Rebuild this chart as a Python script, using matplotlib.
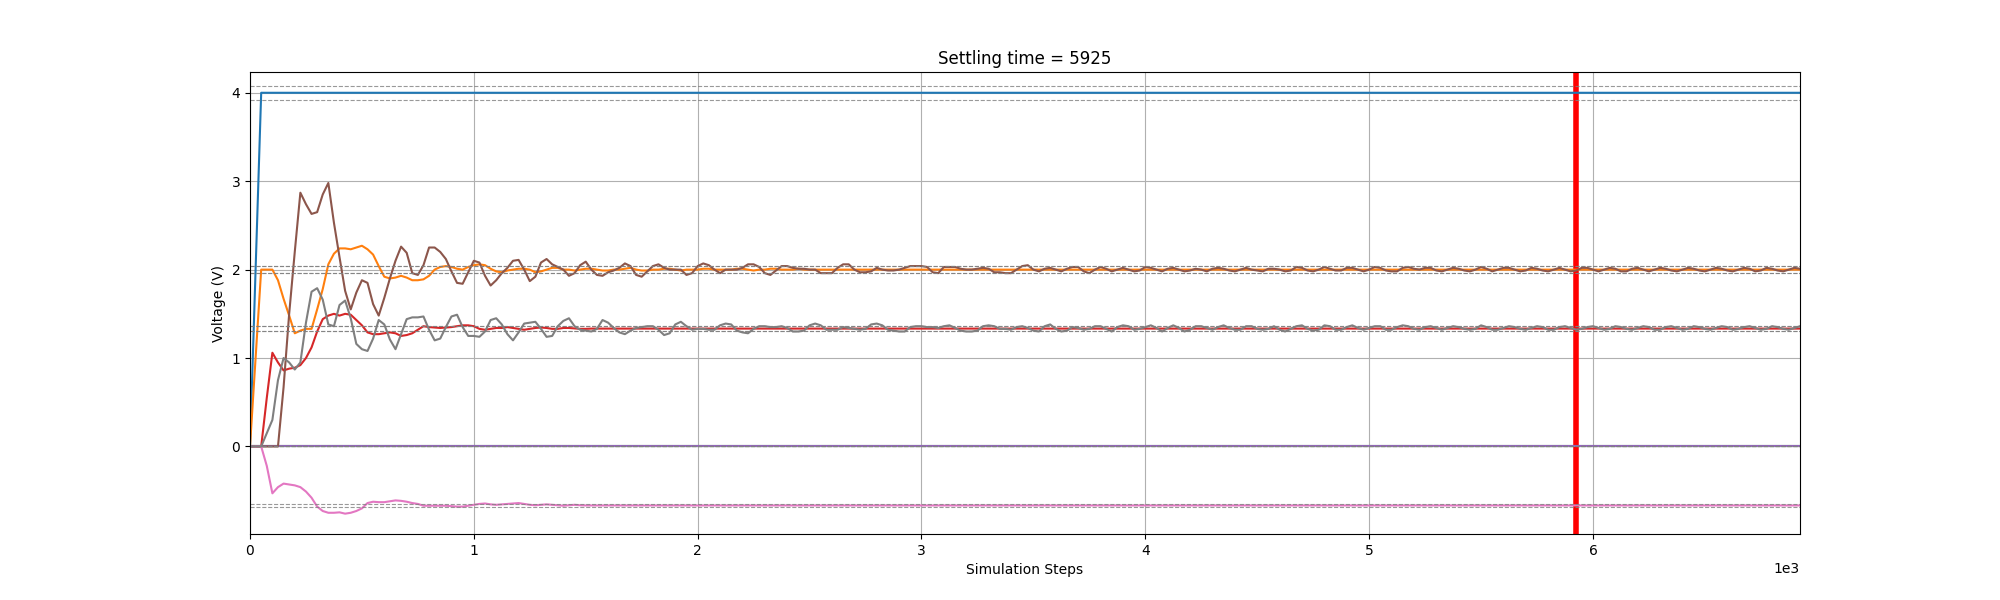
import numpy as np
import matplotlib
matplotlib.use("Agg")
import matplotlib.pyplot as plt

# ---- Data (sampled every 25 simulation steps) ----
steps = np.arange(0, 6926, 25)
settling_time = 5925
tolerance = 0.02

v_blue = [0.0, 2.0] + [4.0] * 276
v_green = [0.0] * 278
v_purple = [0.0] * 278

v_orange = [
    0.0, 1.0, 2.0, 2.0, 2.0, 1.88, 1.67, 1.48, 1.28, 1.31,
    1.33, 1.33, 1.55, 1.78, 2.06, 2.18, 2.24, 2.24, 2.23, 2.25,
    2.27, 2.23, 2.17, 2.04, 1.92, 1.90, 1.91, 1.93, 1.91, 1.88,
    1.88, 1.89, 1.93, 2.0, 2.03, 2.04, 2.03, 2.01, 2.0, 2.03,
    2.05, 2.06, 2.05, 2.01, 1.98, 1.97, 1.99, 2.0, 2.01, 2.01,
    2.0, 1.97, 1.98, 2.0, 2.02, 2.02, 2.0, 2.0, 1.99, 2.0,
    2.01, 2.01, 2.0, 1.99, 1.99, 2.0, 2.0, 2.01, 2.02, 2.0,
    1.99, 1.99, 2.0, 2.0, 2.01, 2.01, 2.0, 1.99, 2.0, 2.0,
    2.0, 2.01, 2.01, 2.0, 2.0, 2.0,
    2.0, 2.01, 2.01, 2.0, 1.99, 2.0, 2.0, 2.01, 2.01, 2.0, 2.0, 2.0, 2.01, 2.0,
] + [2.0] * 178

v_red = [
    0.0, 0.0, 0.0, 0.55, 1.06, 0.95, 0.86, 0.88, 0.89, 0.92,
    1.0, 1.12, 1.3, 1.44, 1.48, 1.5, 1.48, 1.5, 1.49, 1.43,
    1.37, 1.29, 1.27, 1.27, 1.28, 1.29, 1.28, 1.25, 1.26, 1.28,
    1.32, 1.36, 1.35, 1.345, 1.34, 1.345, 1.35, 1.36, 1.37, 1.37,
    1.36, 1.33, 1.32, 1.33, 1.34, 1.34, 1.35, 1.34, 1.33, 1.32,
    1.33, 1.34, 1.345, 1.34, 1.33, 1.33, 1.34, 1.34, 1.335, 1.33,
    1.33,
] + [1.333] * 217

v_brown = [
    0.0, 0.0, 0.0, 0.0, 0.0, 0.0, 0.67, 1.5, 2.2, 2.87,
    2.74, 2.63, 2.65, 2.85, 2.98, 2.53, 2.14, 1.76, 1.55, 1.74,
    1.88, 1.85, 1.61, 1.48, 1.68, 1.9, 2.1, 2.26, 2.19, 1.96,
    1.94, 2.05, 2.25, 2.25, 2.2, 2.12, 1.98, 1.85, 1.84, 1.97,
    2.1, 2.08, 1.93, 1.82, 1.88, 1.96, 2.02, 2.1, 2.11, 2.0,
    1.87, 1.92, 2.08, 2.12, 2.06, 2.03, 2.0, 1.93, 1.96, 2.05,
    2.09, 2.0, 1.94, 1.93, 1.97, 1.99, 2.02, 2.07, 2.04, 1.94,
    1.92, 1.98, 2.04, 2.06, 2.02, 2.0, 2.0, 2.0, 1.94, 1.96,
    2.04, 2.07, 2.05, 2.0, 1.96, 2.0, 2.0, 2.0, 2.02, 2.06,
    2.06, 2.03, 1.96, 1.94, 1.99, 2.04, 2.04, 2.02, 2.01, 2.01,
    2.0, 2.0, 1.96, 1.96, 1.96, 2.02, 2.06, 2.06, 2.0, 1.97,
    1.97, 1.98, 2.02, 2.0, 1.99, 1.99, 2.0, 2.02, 2.04, 2.04,
    2.04, 2.03, 1.97, 1.96, 2.03, 2.03, 2.03, 2.01, 2.0, 2.0,
    2.01, 2.02, 2.01, 1.97, 1.97, 1.96, 1.96, 2.0, 2.04, 2.05,
    2.0, 1.98, 2.01, 2.02, 2.0, 1.98, 2.01, 2.03, 2.03, 1.98,
    1.96, 2.0, 2.03, 2.01, 1.98, 2.0, 2.02, 2.0, 1.98, 1.99,
    2.03, 2.02, 2.0, 1.98, 2.01, 2.02, 2.0, 1.98, 1.99, 2.01,
    2.0, 1.98, 2.01, 2.02, 2.01, 1.99, 1.98, 2.0, 2.02, 2.0,
    1.99, 1.98, 2.01, 2.01, 2.0, 1.98, 1.99, 2.03, 2.02, 1.99,
    1.98, 2.0, 2.03, 2.01, 1.99, 1.99, 2.02, 2.02, 2.0, 1.98,
    2.0, 2.03, 2.02, 1.99, 1.98, 1.98, 2.02, 2.03, 2.01, 2.0,
    2.02, 2.02, 1.99, 1.98, 2.0, 2.02, 2.01, 1.99, 1.98, 2.0,
    2.03, 2.01, 1.98, 2.0, 2.02, 2.02, 2.0, 1.98, 1.99, 2.02,
    2.01, 1.99, 1.98, 2.0, 2.02, 2.0, 1.98, 1.99, 2.02, 2.02,
    2.0, 1.98, 2.0, 2.02, 2.01, 1.98, 1.98, 2.01, 2.02, 2.0,
    1.98, 2.0, 2.02, 2.01, 1.99, 1.98, 2.0, 2.02, 2.01, 1.99,
    1.98, 2.0, 2.02, 2.01, 1.99, 1.98, 2.0, 2.02, 2.01, 1.98,
    1.99, 2.02, 2.01, 1.99, 1.98, 2.0, 2.02, 2.01,
]

v_pink = [
    0.0, 0.0, 0.0, -0.22, -0.53, -0.46, -0.42, -0.43, -0.44, -0.46,
    -0.51, -0.58, -0.68, -0.73, -0.75, -0.75, -0.745, -0.76, -0.75, -0.73,
    -0.70, -0.64, -0.625, -0.63, -0.63, -0.62, -0.61, -0.615, -0.625, -0.64,
    -0.65, -0.67, -0.67, -0.67, -0.67, -0.67, -0.675, -0.68, -0.68, -0.67,
    -0.66, -0.65, -0.645, -0.655, -0.66, -0.655, -0.65, -0.645, -0.64, -0.65,
    -0.66, -0.665, -0.66, -0.655, -0.66, -0.665, -0.67, -0.665, -0.66, -0.665,
    -0.667,
] + [-0.667] * 217

v_gray = [
    0.0, 0.0, 0.0, 0.15, 0.3, 0.75, 1.0, 0.95, 0.87, 0.95,
    1.4, 1.75, 1.79, 1.66, 1.38, 1.36, 1.6, 1.65, 1.45, 1.16,
    1.1, 1.08, 1.22, 1.43, 1.38, 1.21, 1.1, 1.27, 1.44, 1.46,
    1.46, 1.47, 1.32, 1.2, 1.22, 1.35, 1.47, 1.49, 1.35, 1.25,
    1.25, 1.24, 1.3, 1.43, 1.45, 1.38, 1.27, 1.2, 1.29, 1.39,
    1.4, 1.41, 1.33, 1.24, 1.25, 1.36, 1.42, 1.45, 1.36, 1.32,
    1.31, 1.3, 1.33, 1.43, 1.4, 1.34, 1.29, 1.27, 1.31, 1.34,
    1.35, 1.36, 1.36, 1.32, 1.26, 1.28, 1.38, 1.41, 1.36, 1.32,
    1.33, 1.33, 1.32, 1.32, 1.37, 1.39, 1.38, 1.31, 1.29, 1.28,
    1.33, 1.36, 1.36, 1.35, 1.35, 1.36, 1.34, 1.3, 1.3, 1.31,
    1.37, 1.39, 1.37, 1.32, 1.32, 1.32, 1.35, 1.34, 1.33, 1.32,
    1.33, 1.38, 1.39, 1.37, 1.32, 1.31, 1.3, 1.3, 1.35, 1.36,
    1.36, 1.35, 1.35, 1.34, 1.36, 1.37, 1.34, 1.31, 1.3, 1.3,
    1.31, 1.36, 1.37, 1.36, 1.33, 1.33, 1.32, 1.35, 1.36, 1.34,
    1.31, 1.3, 1.36, 1.38, 1.33, 1.3, 1.31, 1.35, 1.34, 1.32,
    1.33, 1.36, 1.36, 1.33, 1.3, 1.35, 1.37, 1.36, 1.32, 1.33,
    1.35, 1.37, 1.34, 1.3, 1.34, 1.37, 1.34, 1.3, 1.32, 1.36,
    1.36, 1.34, 1.32, 1.35, 1.37, 1.34, 1.32, 1.32, 1.36, 1.36,
    1.33, 1.32, 1.33, 1.36, 1.32, 1.3, 1.33, 1.36, 1.37, 1.33,
    1.31, 1.32, 1.37, 1.36, 1.32, 1.32, 1.35, 1.37, 1.34, 1.32,
    1.34, 1.36, 1.36, 1.32, 1.32, 1.35, 1.37, 1.36, 1.33, 1.32,
    1.35, 1.36, 1.34, 1.32, 1.34, 1.36, 1.35, 1.33, 1.32, 1.33,
    1.37, 1.35, 1.32, 1.32, 1.34, 1.36, 1.35, 1.33, 1.32, 1.34,
    1.36, 1.35, 1.32, 1.32, 1.35, 1.36, 1.34, 1.32, 1.33, 1.35,
    1.36, 1.34, 1.32, 1.33, 1.36, 1.35, 1.33, 1.32, 1.34, 1.36,
    1.35, 1.32, 1.32, 1.35, 1.36, 1.34, 1.32, 1.33, 1.36, 1.35,
    1.33, 1.32, 1.34, 1.36, 1.35, 1.32, 1.33, 1.35, 1.36, 1.34,
    1.32, 1.33, 1.36, 1.35, 1.33, 1.32, 1.34, 1.36,
]

series = [v_blue, v_orange, v_green, v_red, v_purple, v_brown, v_pink, v_gray]
targets = [4.0, 2.0, 0.0, 1.333, 0.0, 2.0, -0.667, 1.333]
colors = ["C0", "C1", "C2", "C3", "C4", "C5", "C6", "C7"]

# ---- Plot ----
fig, ax = plt.subplots(figsize=(20, 6), dpi=100)
ax.axvline(settling_time, color="red", linewidth=4)

for vals, c in zip(series, colors):
    ax.plot(steps, vals, color=c)

# +/- 2% settling bands around each target
for target in targets:
    for band in (target * (1 + tolerance), target * (1 - tolerance)):
        ax.axhline(band, color="gray", linestyle="--", linewidth=0.8, alpha=0.8)

ax.set_xlim(0, steps[-1])
ax.set_ylim(-0.99, 4.235)
ax.ticklabel_format(axis="x", style="sci", scilimits=(0, 0))
ax.set_title(f"Settling time = {settling_time}")
ax.set_xlabel("Simulation Steps")
ax.set_ylabel("Voltage (V)")
ax.grid(True)

fig.savefig("out.png", dpi=100)
